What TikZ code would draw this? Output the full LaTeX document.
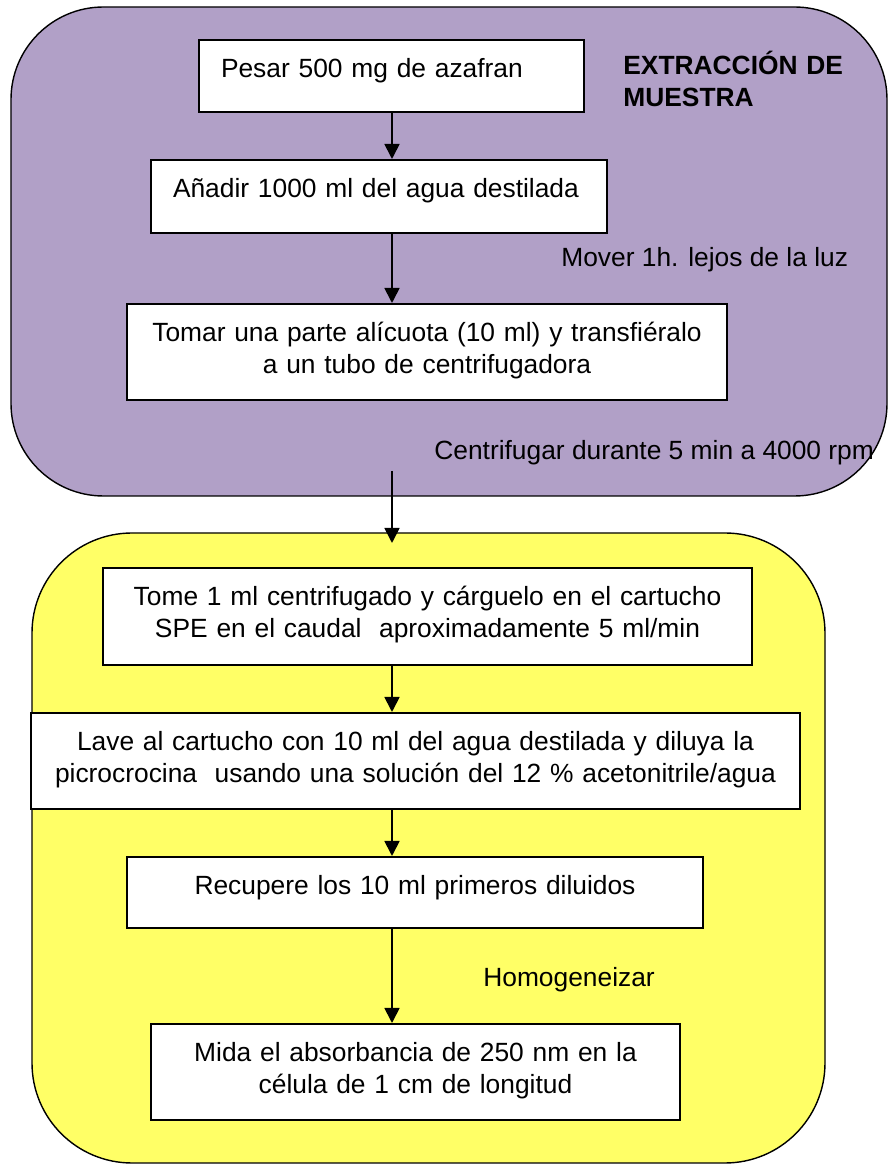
\documentclass[tikz,border=0pt]{standalone}
\usepackage{fontspec}
\setmainfont{Liberation Sans}
\usetikzlibrary{arrows.meta}

\definecolor{lila}{RGB}{177,160,199}
\definecolor{amarillo}{RGB}{255,255,102}

\begin{document}
\begin{tikzpicture}[
        font=\fontsize{15}{18.2}\selectfont,
        panel/.style={draw, line width=0.8pt, inner sep=0pt},
        paso/.style={draw, fill=white, line width=1pt, anchor=north, inner sep=0pt, align=center, text height=0.75cm},
        pasoizq/.style={paso, align=left, inner xsep=0.44cm},
        nota/.style={anchor=base west, inner sep=0pt},
        flecha/.style={-{Triangle[length=0.3cm, width=0.3cm]}, line width=1pt}]
        \useasboundingbox (0,0) rectangle (17.76,23.28);

        \node[panel, fill=lila, rounded corners=1.85cm, minimum width=17.52cm, minimum height=9.78cm] (extraccion) at (8.98,18.25) {};
        \node[panel, fill=amarillo, rounded corners=2cm, minimum width=15.86cm, minimum height=12.6cm] (purificacion) at (8.57,6.32) {};

        \node[pasoizq, text width=6.82cm, text depth=0.69cm] (pesar) at (7.83,22.5) {Pesar 500 mg de azafran};
        \node[pasoizq, text width=8.24cm, text depth=0.71cm] (anadir) at (7.58,20.1) {Añadir 1000 ml del agua destilada};
        \node[paso, text width=12cm, text depth=1.17cm] (tomar) at (8.54,17.22) {Tomar una parte alícuota (10 ml) y transfiéralo\\a un tubo de centrifugadora};
        \node[paso, text width=12.98cm, text depth=1.19cm] (tome) at (8.55,11.94) {Tome 1 ml centrifugado y cárguelo en el cartucho\\SPE en el caudal~ aproximadamente 5 ml/min};
        \node[paso, text width=15.38cm, text depth=1.17cm] (lave) at (8.31,9.04) {Lave al cartucho con 10 ml del agua destilada y diluya la\\picrocrocina~ usando una solución del 12 \% acetonitrile/agua};
        \node[paso, text width=11.52cm, text depth=0.67cm] (recupere) at (8.3,6.16) {Recupere los 10 ml primeros diluidos};
        \node[paso, text width=10.58cm, text depth=1.17cm] (mida) at (8.31,2.82) {Mida el absorbancia de 250 nm en la\\célula de 1 cm de longitud};

        \node[nota, text width=5cm, align=left] (titulo) at (12.46,21.79) {\bfseries EXTRACCIÓN DE\\MUESTRA};
        \node[nota] (mover) at (11.22,17.95) {Mover 1h. lejos de la luz};
        \node[nota] (centrifugar) at (8.68,14.09) {Centrifugar durante 5 min a 4000 rpm};
        \node[nota] (homogeneizar) at (9.66,3.55) {Homogeneizar};

        \coordinate (eje) at (7.84,0);
        \coordinate (salida) at (7.84,13.86);
        \coordinate (entrada) at (7.84,12.42);

        \draw[flecha] (pesar.south -| eje) -- (anadir.north -| eje);
        \draw[flecha] (anadir.south -| eje) -- (tomar.north -| eje);
        \draw[flecha] (salida) -- (entrada);
        \draw[flecha] (tome.south -| eje) -- (lave.north -| eje);
        \draw[flecha] (lave.south -| eje) -- (recupere.north -| eje);
        \draw[flecha] (recupere.south -| eje) -- (mida.north -| eje);
    \end{tikzpicture}
\end{document}
